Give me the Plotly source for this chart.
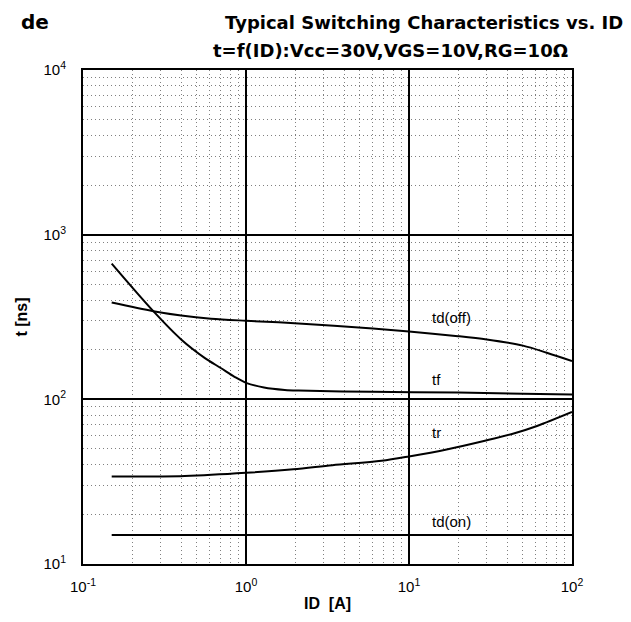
import math
import plotly.graph_objects as go

# ---- data ----
id_tdoff = [0.15, 0.27, 0.40, 0.61, 1, 2.1, 6, 10, 20, 30, 50, 70, 100]
t_tdoff = [387, 343, 323, 309, 300, 289, 269, 258, 242, 231, 212, 192, 171]

id_tf = [0.15, 0.27, 0.40, 0.56, 0.7, 0.85, 1, 1.29, 1.73, 2.1, 5.9, 20, 50, 100]
t_tf = [667, 343, 231, 178, 155, 137, 126, 118, 114, 113, 111, 110, 108, 107]

id_tr = [0.15, 0.3, 0.42, 1, 1.95, 3.39, 6.77, 10, 17.3, 28.8, 43.9, 61, 100]
t_tr = [34, 34, 34.2, 35.8, 37.6, 39.8, 42.3, 45, 49.8, 55.9, 62, 68.9, 83.8]

id_tdon = [0.15, 100]
t_tdon = [15, 15]

series_names = ["td(off)", "tf", "tr", "td(on)"]
label_x = [13.5, 13.5, 13.5, 13.5]
label_y = [314, 132, 63, 18]

x_tickvals = [0.1, 1, 10, 100]
x_ticktext = ["10<sup>-1</sup>", "10<sup>0</sup>", "10<sup>1</sup>", "10<sup>2</sup>"]
y_tickvals = [10, 100, 1000, 10000]
y_ticktext = ["10<sup>1</sup>", "10<sup>2</sup>", "10<sup>3</sup>", "10<sup>4</sup>"]

title_left = "de"
title_main = "Typical Switching Characteristics vs. ID"
title_sub = "t=f(ID):Vcc=30V,VGS=10V,RG=10Ω"
x_title = "ID  [A]"
y_title = "t [ns]"

fig = go.Figure()
for xs, ys, nm in [(id_tdoff, t_tdoff, series_names[0]), (id_tf, t_tf, series_names[1]),
                   (id_tr, t_tr, series_names[2]), (id_tdon, t_tdon, series_names[3])]:
    fig.add_trace(go.Scatter(x=xs, y=ys, name=nm, mode="lines",
                             line=dict(color="black", width=2, shape="spline", smoothing=0.9),
                             showlegend=False))

fnt = "Liberation Sans, Arial, sans-serif"
tfnt = "DejaVu Sans, Liberation Sans, sans-serif"
for nm, lx, ly in zip(series_names, label_x, label_y):
    fig.add_annotation(x=math.log10(lx), y=math.log10(ly), xref="x", yref="y", text=nm,
                       xanchor="left", showarrow=False,
                       font=dict(family=fnt, size=15, color="black"))

fig.add_annotation(xref="paper", yref="paper", x=-0.13, y=1.097, xanchor="left", yanchor="middle",
                   text="<b>" + title_left + "</b>", showarrow=False, font=dict(family=tfnt, size=20, color="black"))
fig.add_annotation(xref="paper", yref="paper", x=1.1075, y=1.097, xanchor="right", yanchor="middle",
                   text="<b>" + title_main + "</b>", showarrow=False, font=dict(family=tfnt, size=18, color="black"))
fig.add_annotation(xref="paper", yref="paper", x=0.629, y=1.040, xanchor="center", yanchor="middle",
                   text="<b>" + title_sub + "</b>", showarrow=False, font=dict(family=tfnt, size=18, color="black"))

common_minor = dict(dtick="D1", showgrid=True, gridcolor="#808080", griddash="1px,3px", gridwidth=1, ticks="")
fig.update_xaxes(type="log", range=[-1, 2], tickvals=x_tickvals, ticktext=x_ticktext,
                 showgrid=True, gridcolor="black", gridwidth=1.5, minor=common_minor,
                 showline=True, linecolor="black", linewidth=2, mirror=True, ticks="",
                 ticklabelstandoff=8,
                 tickfont=dict(family=fnt, size=15, color="black"),
                 title=dict(text="<b>" + x_title + "</b>", font=dict(family=fnt, size=16, color="black"), standoff=4),
                 zeroline=False)
fig.update_yaxes(type="log", range=[1, 4], tickvals=y_tickvals, ticktext=y_ticktext,
                 showgrid=True, gridcolor="black", gridwidth=1.5, minor=common_minor,
                 showline=True, linecolor="black", linewidth=2, mirror=True, ticks="",
                 ticklabelstandoff=12,
                 tickfont=dict(family=fnt, size=15, color="black"),
                 title=dict(text="<b>" + y_title + "</b>", font=dict(family=fnt, size=16, color="black"), standoff=12),
                 zeroline=False)
fig.update_layout(width=623, height=614, margin=dict(l=71, r=59, t=62, b=57),
                  paper_bgcolor="white", plot_bgcolor="white", showlegend=False)
fig.write_html("out.html")
